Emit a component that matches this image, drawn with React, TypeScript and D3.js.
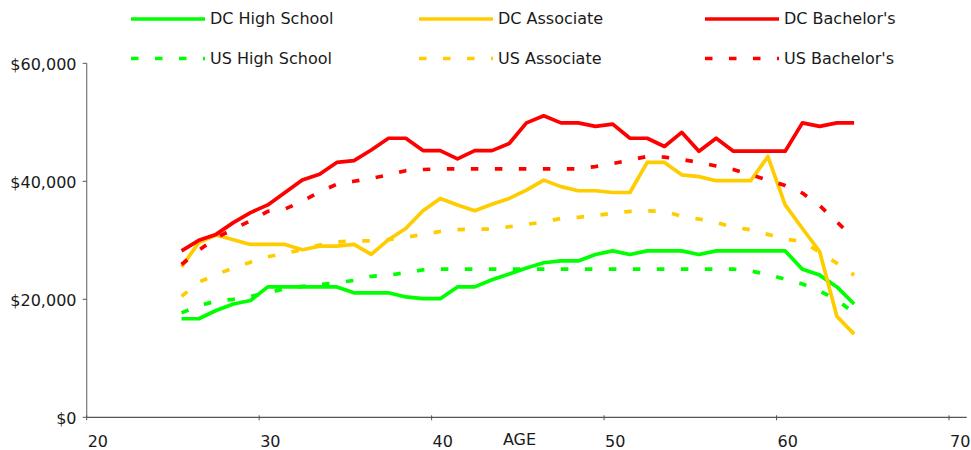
import React from "react";
import * as d3 from "d3";

const ages: number[] = [
  25, 26, 27, 28, 29, 30, 31, 32, 33, 34, 35, 36, 37, 38, 39, 40, 41, 42, 43, 44,
  45, 46, 47, 48, 49, 50, 51, 52, 53, 54, 55, 56, 57, 58, 59, 60, 61, 62, 63, 64,
];

const dcHighSchool: number[] = [
  16.7, 16.7, 18.1, 19.2, 19.8, 22.1, 22.1, 22.1, 22.1, 22.1,
  21.1, 21.1, 21.1, 20.4, 20.1, 20.1, 22.1, 22.1, 23.3, 24.3,
  25.3, 26.2, 26.5, 26.5, 27.6, 28.2, 27.6, 28.2, 28.2, 28.2,
  27.6, 28.2, 28.2, 28.2, 28.2, 28.2, 25.1, 24.1, 22.1, 19.2,
];
const dcAssociate: number[] = [
  25.5, 29.6, 30.9, 30.1, 29.3, 29.3, 29.3, 28.4, 29.0, 29.0,
  29.3, 27.6, 30.1, 32.0, 35.0, 37.1, 36.0, 35.0, 36.1, 37.1,
  38.5, 40.2, 39.1, 38.4, 38.4, 38.1, 38.1, 43.2, 43.2, 41.1,
  40.8, 40.1, 40.1, 40.1, 44.2, 36.0, 32.0, 28.1, 17.1, 14.1,
];
const dcBachelors: number[] = [
  28.2, 30.0, 31.0, 33.0, 34.7, 36.0, 38.1, 40.2, 41.2, 43.2,
  43.5, 45.3, 47.3, 47.3, 45.2, 45.2, 43.8, 45.2, 45.2, 46.4,
  49.9, 51.1, 49.9, 49.9, 49.3, 49.7, 47.3, 47.3, 45.9, 48.3,
  45.1, 47.3, 45.1, 45.1, 45.1, 45.1, 49.9, 49.3, 49.9, 49.9,
];
const usHighSchool: number[] = [
  17.7, 18.9, 19.7, 20.0, 20.5, 21.1, 21.8, 22.2, 22.5, 22.8,
  23.2, 23.9, 24.1, 24.5, 25.0, 25.1, 25.1, 25.1, 25.1, 25.1,
  25.1, 25.1, 25.1, 25.1, 25.1, 25.1, 25.1, 25.1, 25.1, 25.1,
  25.1, 25.1, 25.1, 24.8, 24.2, 23.4, 22.6, 21.4, 19.9, 17.7,
];
const usAssociate: number[] = [
  20.5, 22.9, 24.2, 25.3, 26.3, 27.2, 27.8, 28.4, 29.2, 29.7,
  29.9, 29.9, 30.1, 30.5, 31.0, 31.5, 31.8, 31.9, 31.9, 32.3,
  32.7, 33.1, 33.7, 33.9, 34.2, 34.6, 34.9, 35.0, 34.9, 34.1,
  33.6, 33.0, 32.2, 31.8, 31.0, 30.2, 29.8, 28.0, 26.1, 24.1,
];
const usBachelors: number[] = [
  25.9, 28.3, 30.4, 31.9, 33.3, 34.9, 35.3, 36.6, 38.2, 39.5,
  40.0, 40.5, 41.1, 41.8, 42.0, 42.1, 42.1, 42.1, 42.1, 42.1,
  42.1, 42.1, 42.1, 42.1, 42.5, 43.0, 43.6, 44.2, 44.1, 43.7,
  43.2, 42.6, 42.0, 41.1, 40.2, 39.3, 38.0, 35.9, 33.1, 30.4,
];

const seriesNames: string[] = [
  "DC High School", "DC Associate", "DC Bachelor's",
  "US High School", "US Associate", "US Bachelor's",
];
const xTicks: number[] = [20, 30, 40, 50, 60, 70];
const yTicks: number[] = [0, 20000, 40000, 60000];

const GREEN = "#00FF00";
const YELLOW = "#FFCC00";
const RED = "#FF0000";
const DASH = "7.5 16.5";
const FONT = "'DejaVu Sans', Verdana, sans-serif";
const TEXT = "#1a1a1a";
const FS = 16;

export default function App() {
  const x = d3.scaleLinear().domain([20, 70]).range([86.7, 949]);
  const y = d3.scaleLinear().domain([0, 60000]).range([417.3, 63.3]);

  const series = [
    { name: seriesNames[0], values: dcHighSchool, color: GREEN, dash: null },
    { name: seriesNames[1], values: dcAssociate, color: YELLOW, dash: null },
    { name: seriesNames[2], values: dcBachelors, color: RED, dash: null },
    { name: seriesNames[3], values: usHighSchool, color: GREEN, dash: DASH },
    { name: seriesNames[4], values: usAssociate, color: YELLOW, dash: DASH },
    { name: seriesNames[5], values: usBachelors, color: RED, dash: DASH },
  ];

  const line = d3
    .line<[number, number]>()
    .x((d) => x(d[0] + 0.5))
    .y((d) => y(d[1] * 1000));

  const fmt = (v: number) => "$" + d3.format(",")(v);

  const legendCols = [131, 419, 705];
  const legendRows = [19, 58.5];

  return (
    <svg
      width={971}
      height={450}
      style={{ position: "absolute", left: 0, top: 0, background: "#fff" }}
      fontFamily={FONT}
    >
      {/* Axes */}
      <line x1={x(20)} x2={966.7} y1={y(0)} y2={y(0)} stroke="#555" strokeWidth={1.2} />
      <line x1={x(20)} x2={x(20)} y1={y(60000)} y2={y(0)} stroke="#777" strokeWidth={1.2} />
      {yTicks.map((t) => (
        <g key={"y" + t}>
          <line x1={x(20) - 4} x2={x(20)} y1={y(t)} y2={y(t)} stroke="#555" strokeWidth={1} />
          <text x={76.5} y={y(t) + 6.5} textAnchor="end" fontSize={FS} fill={TEXT}>
            {fmt(t)}
          </text>
        </g>
      ))}
      {xTicks.map((t) => (
        <g key={"x" + t}>
          <line x1={x(t)} x2={x(t)} y1={y(0) - 2} y2={y(0) + 3} stroke="#555" strokeWidth={1} />
          <text x={x(t) + 1} y={447} textAnchor="start" fontSize={FS} fill={TEXT}>
            {t}
          </text>
        </g>
      ))}
      <text x={519.5} y={445} textAnchor="middle" fontSize={FS} fill={TEXT}>
        AGE
      </text>

      {/* Series */}
      {series.map((s) => (
        <path
          key={s.name}
          d={line(ages.map((a, i) => [a, s.values[i]] as [number, number])) || ""}
          fill="none"
          stroke={s.color}
          strokeWidth={3.7}
          strokeLinejoin="round"
          strokeDasharray={s.dash || undefined}
        />
      ))}

      {/* Legend */}
      {series.map((s, i) => {
        const col = legendCols[i % 3];
        const row = legendRows[Math.floor(i / 3)];
        return (
          <g key={"lg" + s.name}>
            <line
              x1={col}
              x2={col + 74}
              y1={row}
              y2={row}
              stroke={s.color}
              strokeWidth={3.7}
              strokeDasharray={s.dash || undefined}
            />
            <text x={col + 79} y={row + 5} fontSize={FS} fill={TEXT}>
              {s.name}
            </text>
          </g>
        );
      })}
    </svg>
  );
}
